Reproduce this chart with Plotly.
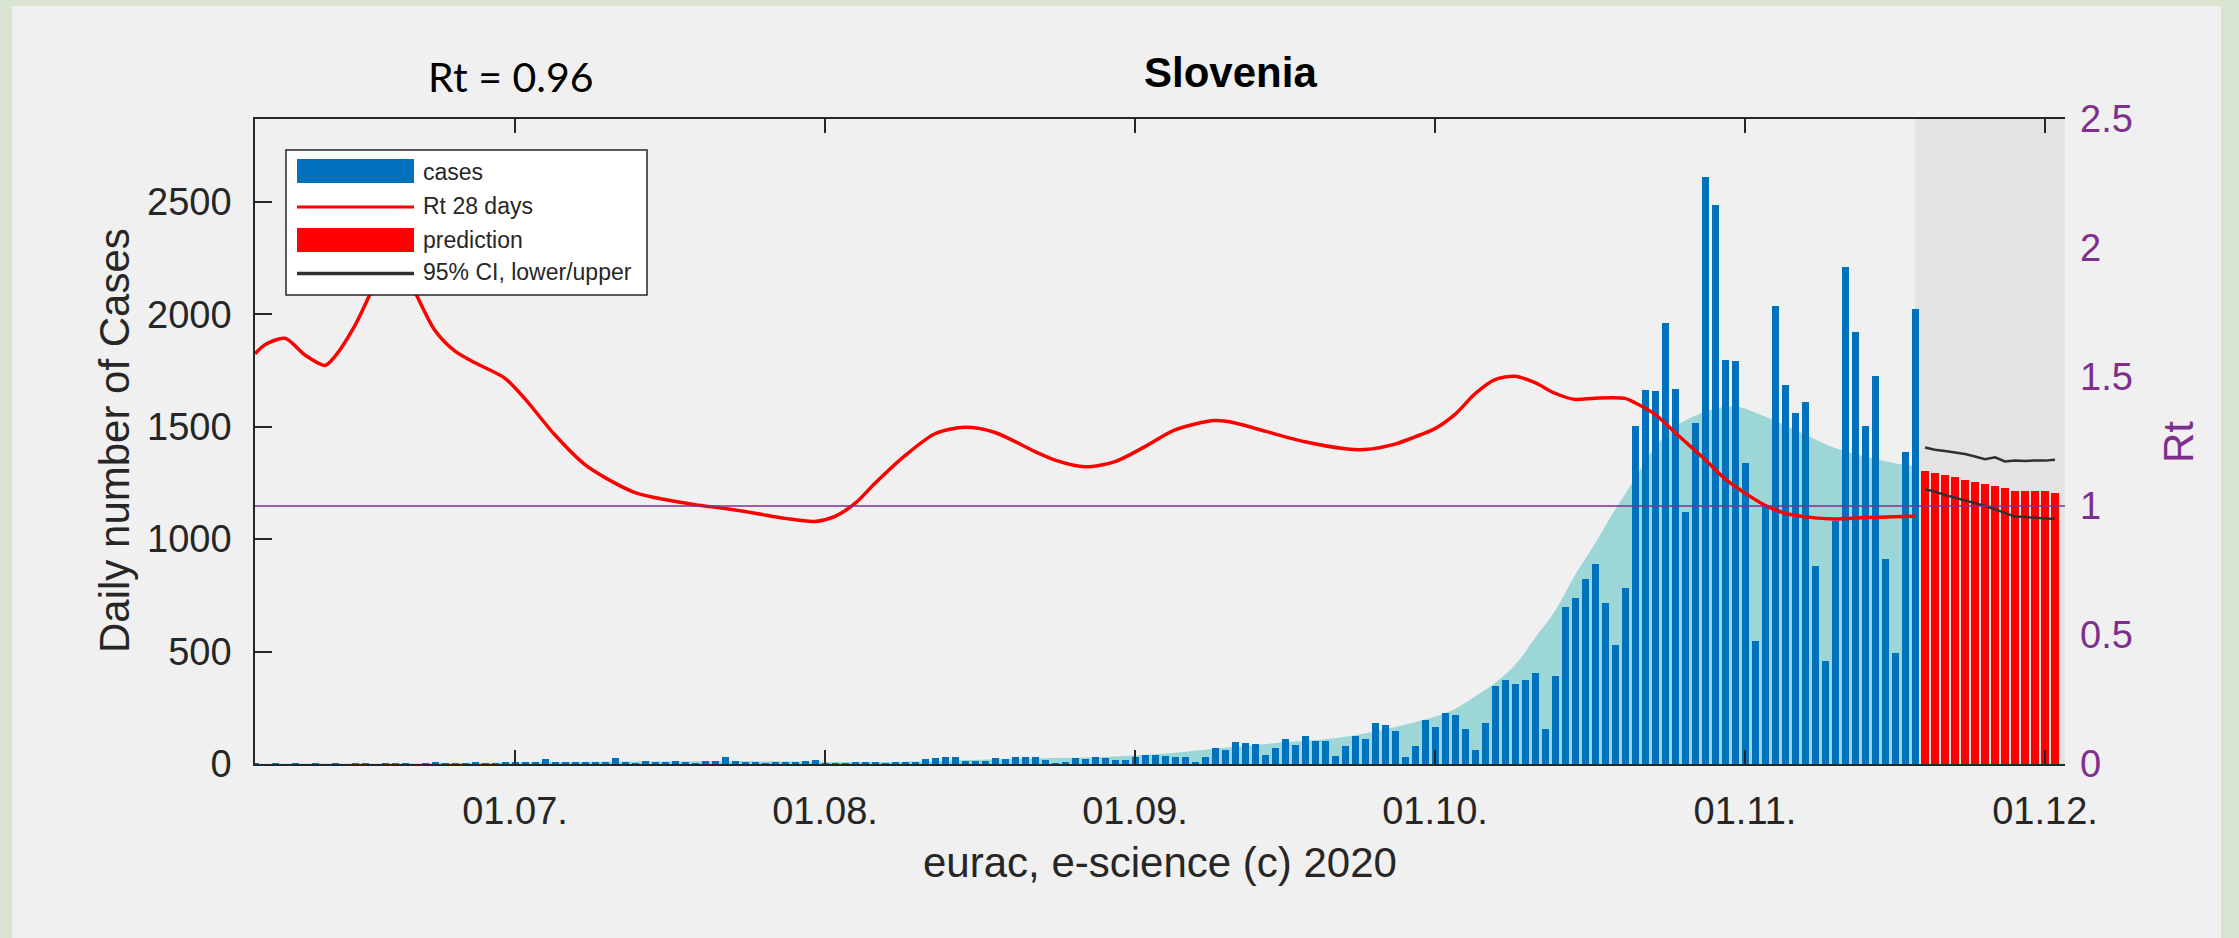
import plotly.graph_objects as go
import pandas as pd

# ---------------- data ----------------
x_tick_dates = ["2020-07-01", "2020-08-01", "2020-09-01", "2020-10-01", "2020-11-01", "2020-12-01"]
x_tick_labels = ["01.07.", "01.08.", "01.09.", "01.10.", "01.11.", "01.12."]
cases_axis_ticks = [0, 500, 1000, 1500, 2000, 2500]
rt_axis_ticks = [0, 0.5, 1, 1.5, 2, 2.5]
rt_axis_labels = ["0", "0.5", "1", "1.5", "2", "2.5"]

x_range_start = "2020-06-05"
x_range_end = "2020-12-03"
cases_axis_max = 2868
rt_axis_max = 2.5

# daily reported cases, starting 05.06.2020
cases_first_day = "2020-06-05"
cases_jun = [1, 0, 2, 0, 1, 0, 2, 0, 1, 0, 2, 1, 0, 3, 1, 2, 0, 2, 5, 2, 3, 2, 5, 3, 2, 6]
cases_jul = [7, 8, 10, 22, 9, 6, 9, 11, 7, 8, 28, 5, 3, 12, 11, 10, 12, 6, 3, 14,
             12, 30, 12, 10, 5, 2, 8, 10, 9, 14, 20]
cases_aug = [3, 2, 3, 5, 6, 5, 4, 5, 8, 9, 22, 28, 30, 30, 15, 12, 15, 28, 22, 33,
             30, 33, 18, 3, 7, 27, 22, 30, 27, 19, 19]
cases_sep = [33, 42, 42, 36, 33, 33, 5, 30, 70, 62, 99, 93, 89, 42, 71, 111, 86, 123, 101, 101,
             37, 79, 123, 111, 181, 174, 145, 33, 82, 195]
cases_oct = [166, 229, 216, 157, 64, 184, 345, 375, 357, 372, 404, 157, 393, 699, 738, 824, 890, 717, 529, 783,
             1501, 1662, 1658, 1959, 1667, 1122, 1515, 2609, 2486, 1798, 1792]
cases_nov = [1337, 547, 1150, 2037, 1685, 1560, 1608, 881, 457, 1080, 2212, 1921, 1501, 1724, 911, 493, 1387, 2025]

# smoothed case curve (teal area)
trend_dates = ["2020-06-05", "2020-06-12", "2020-06-19", "2020-06-26", "2020-07-03", "2020-07-10", "2020-07-17",
               "2020-07-24", "2020-07-31", "2020-08-07", "2020-08-14", "2020-08-19", "2020-08-24", "2020-08-28",
               "2020-09-01", "2020-09-05", "2020-09-09", "2020-09-13", "2020-09-17", "2020-09-21", "2020-09-25",
               "2020-09-28", "2020-10-01", "2020-10-03", "2020-10-05", "2020-10-07", "2020-10-09", "2020-10-11",
               "2020-10-13", "2020-10-15", "2020-10-17", "2020-10-19", "2020-10-21", "2020-10-23", "2020-10-25",
               "2020-10-28", "2020-10-31", "2020-11-03", "2020-11-06", "2020-11-10", "2020-11-13", "2020-11-16",
               "2020-11-18"]
trend_values = [1, 2, 2, 4, 8, 10, 11, 12, 10, 9, 16, 22, 27, 30,
                38, 50, 68, 85, 100, 115, 145, 175, 210, 245, 300, 360, 440, 560,
                680, 840, 980, 1130, 1270, 1410, 1500, 1565, 1590, 1545, 1486, 1405, 1367, 1337, 1325]

# Rt (28 days), right axis
rt_dates = ["2020-06-05", "2020-06-06", "2020-06-08", "2020-06-10", "2020-06-12", "2020-06-13", "2020-06-15",
            "2020-06-17", "2020-06-19", "2020-06-21", "2020-06-23", "2020-06-25", "2020-06-27", "2020-06-30",
            "2020-07-02", "2020-07-05", "2020-07-08", "2020-07-10", "2020-07-13", "2020-07-16", "2020-07-19",
            "2020-07-22", "2020-07-25", "2020-07-28", "2020-07-31", "2020-08-02", "2020-08-04", "2020-08-06",
            "2020-08-09", "2020-08-12", "2020-08-15", "2020-08-18", "2020-08-22", "2020-08-24", "2020-08-27",
            "2020-08-30", "2020-09-02", "2020-09-05", "2020-09-09", "2020-09-11", "2020-09-14", "2020-09-18",
            "2020-09-22", "2020-09-24", "2020-09-27", "2020-09-29", "2020-10-01", "2020-10-03", "2020-10-05",
            "2020-10-07", "2020-10-09", "2020-10-11", "2020-10-13", "2020-10-15", "2020-10-17", "2020-10-20",
            "2020-10-21", "2020-10-23", "2020-10-25", "2020-10-28", "2020-10-30", "2020-11-01", "2020-11-03",
            "2020-11-05", "2020-11-08", "2020-11-10", "2020-11-13", "2020-11-16", "2020-11-18"]
rt_values = [1.59, 1.625, 1.65, 1.585, 1.545, 1.58, 1.70,
             1.86, 1.99, 1.83, 1.68, 1.60, 1.555, 1.495,
             1.415, 1.275, 1.16, 1.11, 1.052, 1.025, 1.005,
             0.99, 0.972, 0.952, 0.94, 0.96, 1.01, 1.088,
             1.195, 1.28, 1.305, 1.285, 1.211, 1.178, 1.152,
             1.172, 1.23, 1.295, 1.331, 1.322, 1.29, 1.249,
             1.222, 1.219, 1.24, 1.268, 1.30, 1.355, 1.435,
             1.49, 1.503, 1.478, 1.437, 1.413, 1.418, 1.417,
             1.40, 1.355, 1.285, 1.18, 1.105, 1.05, 1.003,
             0.972, 0.954, 0.950, 0.955, 0.958, 0.96]
rt_reference = 1.0

# prediction with 95% confidence interval, starting 19.11.2020
pred_first_day = "2020-11-19"
pred_values = [1305, 1296, 1284, 1274, 1263, 1256, 1244, 1237, 1226, 1216, 1214, 1214, 1214, 1207]
ci_upper = [1407, 1397, 1392, 1386, 1378, 1367, 1355, 1364, 1345, 1349, 1347, 1350, 1349, 1353]
ci_lower = [1222, 1211, 1196, 1184, 1174, 1160, 1148, 1132, 1115, 1100, 1098, 1095, 1092, 1089]
prediction_region_start = "2020-11-18"

# ---------------- derived ----------------
cases = cases_jun + cases_jul + cases_aug + cases_sep + cases_oct + cases_nov
case_dates = pd.date_range(cases_first_day, periods=len(cases), freq="D")
pred_dates = pd.date_range(pred_first_day, periods=len(pred_values), freq="D")
DAY_MS = 86400000

# ---------------- style ----------------
BLUE = "#0072BD"
RED = "#FF0000"
TEAL = "#9DD6D6"
PURPLE = "#7E2F8E"
AXIS = "#262626"
CI_COLOR = "#303030"
PANEL = "#F0F0F0"
FRAME_GREEN = "#D8E4CF"
PRED_GREY = "#E3E3E3"
FONT = "Liberation Sans, Arial, sans-serif"

W, H = 2239, 938
L, R, T, B = 255, 174, 119, 174
PW, PH = W - L - R, H - T - B


def px(xp):
    return (xp - L) / PW


def py(yp):
    return (H - B - yp) / PH


fig = go.Figure()

# layer 1 (y): smoothed area, lowest
fig.add_trace(go.Scatter(x=trend_dates, y=trend_values, yaxis="y", mode="lines",
                         line=dict(width=0, shape="spline", smoothing=1.0),
                         fill="tozeroy", fillcolor=TEAL, name="trend", hoverinfo="skip"))
# layer 2 (y2, same scale as y): bars and CI
fig.add_trace(go.Bar(x=case_dates, y=cases, yaxis="y2", width=0.7 * DAY_MS, name="cases",
                     marker=dict(color=BLUE, line=dict(width=0))))
fig.add_trace(go.Bar(x=pred_dates, y=pred_values, yaxis="y2", width=0.8 * DAY_MS, name="prediction",
                     marker=dict(color=RED, line=dict(width=0))))
fig.add_trace(go.Scatter(x=pred_dates, y=ci_upper, yaxis="y2", mode="lines", name="95% CI upper",
                         line=dict(color=CI_COLOR, width=2.5)))
fig.add_trace(go.Scatter(x=pred_dates, y=ci_lower, yaxis="y2", mode="lines", name="95% CI lower",
                         line=dict(color=CI_COLOR, width=2.5)))
# layer 3 (y3, Rt scale on the right)
fig.add_trace(go.Scatter(x=rt_dates, y=rt_values, yaxis="y3", mode="lines", name="Rt 28 days",
                         line=dict(color=RED, width=3.5, shape="spline", smoothing=0.8)))
fig.add_trace(go.Scatter(x=[x_range_start, x_range_end], y=[rt_reference, rt_reference], yaxis="y3",
                         mode="lines", name="Rt = 1", line=dict(color=PURPLE, width=1.6)))

shapes = [
    # grey panel inside green frame
    dict(type="rect", xref="paper", yref="paper", layer="below",
         x0=px(12), x1=px(2221), y0=py(938), y1=py(6), fillcolor=PANEL, line=dict(width=0)),
    # shaded prediction period
    dict(type="rect", xref="x", yref="y", layer="below",
         x0=prediction_region_start, x1=x_range_end, y0=0, y1=cases_axis_max,
         fillcolor=PRED_GREY, line=dict(width=0)),
    # legend box
    dict(type="rect", xref="paper", yref="paper", layer="above",
         x0=px(286), x1=px(647), y0=py(295), y1=py(150), fillcolor="white",
         line=dict(color=AXIS, width=1.5)),
    dict(type="rect", xref="paper", yref="paper", layer="above",
         x0=px(297), x1=px(414), y0=py(183), y1=py(159), fillcolor=BLUE, line=dict(width=0)),
    dict(type="line", xref="paper", yref="paper", layer="above",
         x0=px(297), x1=px(414), y0=py(207), y1=py(207), line=dict(color=RED, width=3)),
    dict(type="rect", xref="paper", yref="paper", layer="above",
         x0=px(297), x1=px(414), y0=py(252), y1=py(228), fillcolor=RED, line=dict(width=0)),
    dict(type="line", xref="paper", yref="paper", layer="above",
         x0=px(297), x1=px(414), y0=py(273.5), y1=py(273.5), line=dict(color=CI_COLOR, width=3.5)),
]

legend_labels = ["cases", "Rt 28 days", "prediction", "95% CI, lower/upper"]
legend_y = [172, 206, 240, 272]

annotations = []
for lab, yy in zip(legend_labels, legend_y):
    annotations.append(dict(text=lab, xref="paper", yref="paper", x=px(421), y=py(yy),
                            xanchor="left", yanchor="middle", showarrow=False,
                            font=dict(family=FONT, size=23, color=AXIS)))

annotations += [
    dict(text="<b>Slovenia</b>", xref="paper", yref="paper", x=px(1230), y=py(73),
         xanchor="center", yanchor="middle", showarrow=False,
         font=dict(family=FONT, size=42, color="#000000")),
    dict(text="Rt = 0.96", xref="paper", yref="paper", x=px(510), y=py(76),
         xanchor="center", yanchor="middle", showarrow=False,
         font=dict(family="Lato, Open Sans, sans-serif", size=41, color="#000000")),
    dict(text="eurac, e-science (c) 2020", xref="paper", yref="paper", x=0.5, y=py(862),
         xanchor="center", yanchor="middle", showarrow=False,
         font=dict(family=FONT, size=42, color=AXIS)),
    dict(text="Daily number of Cases", xref="paper", yref="paper", x=px(114), y=py(441),
         xanchor="center", yanchor="middle", showarrow=False, textangle=-90,
         font=dict(family=FONT, size=42, color=AXIS)),
    dict(text="Rt", xref="paper", yref="paper", x=px(2178), y=py(442),
         xanchor="center", yanchor="middle", showarrow=False, textangle=-90,
         font=dict(family=FONT, size=42, color=PURPLE)),
]

fig.update_layout(
    width=W, height=H,
    margin=dict(l=L, r=R, t=T, b=B, pad=0, autoexpand=False),
    paper_bgcolor=FRAME_GREEN, plot_bgcolor="#FFFFFF",
    barmode="overlay", bargap=0, showlegend=False,
    font=dict(family=FONT, size=38, color=AXIS),
    shapes=shapes, annotations=annotations,
    xaxis=dict(type="date", range=[x_range_start, x_range_end],
               tickvals=x_tick_dates, ticktext=x_tick_labels,
               ticks="inside", ticklen=14, tickwidth=1.5, tickcolor=AXIS,
               showline=True, linecolor=AXIS, linewidth=1.5, mirror="ticks",
               showgrid=False, zeroline=False, automargin=False, layer="above traces",
               tickfont=dict(family=FONT, size=38, color=AXIS), ticklabelstandoff=13),
    yaxis=dict(range=[0, cases_axis_max], tickvals=cases_axis_ticks,
               ticks="inside", ticklen=17, tickwidth=1.5, tickcolor=AXIS,
               showline=True, linecolor=AXIS, linewidth=1.5,
               showgrid=False, zeroline=False, automargin=False,
               tickfont=dict(family=FONT, size=38, color=AXIS), ticklabelstandoff=14),
    yaxis2=dict(overlaying="y", range=[0, cases_axis_max], visible=False,
                showgrid=False, zeroline=False, automargin=False),
    yaxis3=dict(overlaying="y", side="right", range=[0, rt_axis_max],
                tickvals=rt_axis_ticks, ticktext=rt_axis_labels, ticks="",
                showline=False, showgrid=False, zeroline=False, automargin=False,
                tickfont=dict(family=FONT, size=38, color=PURPLE), ticklabelstandoff=14),
)

fig.write_html("out.html", config={"displayModeBar": False},
               post_script="document.body.style.margin='0';document.body.style.overflow='hidden';")
